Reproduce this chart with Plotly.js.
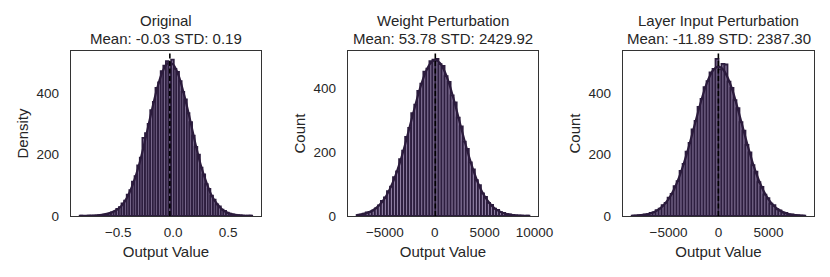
<!DOCTYPE html>
<html>
<head>
<meta charset="utf-8">
<script src="https://cdn.plot.ly/plotly-3.0.1.min.js"></script>
<style>html,body{margin:0;padding:0;background:#fff;}#chart{width:830px;height:277px;}</style>
</head>
<body>
<div id="chart"></div>
<script>
// ---- Data ----
const panelTitles = ["Original", "Weight Perturbation", "Layer Input Perturbation"];
const panelStats = ["Mean: -0.03 STD: 0.19", "Mean: 53.78 STD: 2429.92", "Mean: -11.89 STD: 2387.30"];
const panelMeans = [-0.03, 53.78, -11.89];
const yTitles = ["Density", "Count", "Count"];
const xTitle = "Output Value";

// histogram bins: start and width per panel
const origBinStart = -0.851, origBinWidth = 0.0238;
const weightBinStart = -7834, weightBinWidth = 304;
const layerBinStart = -8682, layerBinWidth = 299.4;

const origCounts = [1, 0, 0, 1, 0, 1, 1, 2, 3, 4, 6, 8, 12, 15, 23, 29, 41, 50, 70, 84,
  112, 130, 165, 190, 255, 270, 300, 345, 372, 418, 436, 472, 490, 505,
  498,
  510, 480, 470, 440, 405, 380, 335, 306, 262, 225, 200, 158, 136, 104, 88, 66, 53, 38, 31, 21,
  17, 11, 8, 5, 4, 2, 2, 1, 0, 1, 1];
const weightCounts = [3, 4, 7, 11, 13, 17, 24, 33, 47, 58, 78, 92, 122, 140, 178, 205, 248, 276, 322, 349,
  392, 415, 452, 462, 485, 490, 492, 476, 470, 438, 420, 378, 356, 308, 281, 233, 210, 168, 146, 112,
  97, 71, 60, 41, 35, 23, 19, 12, 10, 6, 5, 3, 2, 1, 1, 0, 1];
const layerCounts = [1, 1, 2, 3, 5, 6, 10, 12, 19, 24, 35, 43, 60, 72, 97, 114, 147, 170, 210, 238,
  282, 310, 356, 382, 420, 440, 468, 480, 512, 478, 496, 494, 438, 418, 378, 352, 306, 278, 232, 207,
  166, 145, 110, 95, 70, 58, 40, 35, 22, 18, 11, 10, 5, 5, 2, 2, 1, 1];

// KDE curves
const origKdeX = [-0.85, -0.75, -0.65, -0.55, -0.50, -0.45, -0.40, -0.35, -0.30, -0.25, -0.20, -0.15, -0.10, -0.05,
  0.00, 0.05, 0.10, 0.15, 0.20, 0.25, 0.30, 0.35, 0.40, 0.45, 0.50, 0.55, 0.60, 0.72];
const origKdeY = [0.3, 1, 4, 13, 23, 42, 74, 120, 180, 255, 335, 410, 468, 498,
  494, 458, 395, 320, 240, 168, 112, 67, 39, 20, 10, 5, 2, 0.3];
const weightKdeX = [-7834, -7500, -7000, -6500, -6000, -5500, -5000, -4500, -4000, -3500, -3000, -2500, -2000, -1500, -1000, -500,
  0, 500, 1000, 1500, 2000, 2500, 3000, 3500, 4000, 4500, 5000, 5500, 6000, 6500, 7000, 7500, 8000, 8500, 9000, 9494];
const weightKdeY = [3, 4.5, 8, 13, 22, 36, 56, 85, 121, 167, 221, 281, 341, 398, 444, 476,
  488, 480, 452, 409, 354, 294, 234, 179, 131, 91, 62, 40, 24, 14.5, 8, 4.5, 2.3, 1.2, 0.6, 0.3];
const layerKdeX = [-8682, -8000, -7500, -7000, -6500, -6000, -5500, -5000, -4500, -4000, -3500, -3000, -2500, -2000, -1500, -1000, -500,
  0, 500, 1000, 1500, 2000, 2500, 3000, 3500, 4000, 4500, 5000, 5500, 6000, 6500, 7000, 7500, 8000, 8682];
const layerKdeY = [0.7, 1.8, 3.6, 6.7, 12, 21, 35, 55, 83, 121, 168, 222, 283, 344, 401, 447, 477,
  487, 476, 445, 399, 341, 280, 220, 165, 119, 82, 54, 34, 20.5, 11.8, 6.5, 3.4, 1.8, 0.7];

const xRanges = [[-0.93, 0.80], [-8700, 10350], [-9550, 9550]];
const yRanges = [[0, 538], [0, 517], [0, 538]];
const xTickVals = [[-0.5, 0, 0.5], [-5000, 0, 5000, 10000], [-5000, 0, 5000]];
const xTickText = [["\u22120.5", "0.0", "0.5"], ["\u22125000", "0", "5000", "10000"], ["\u22125000", "0", "5000"]];
const yTickVals = [0, 200, 400];

// ---- Build ----
const barFill = "#8e7ea2";
const barEdge = "#2d1e3f";
const kdeColor = "#2b1b3c";
const textColor = "#262626";
const font = "Liberation Sans, Arial, sans-serif";

const hists = [
  [origBinStart, origBinWidth, origCounts, origKdeX, origKdeY],
  [weightBinStart, weightBinWidth, weightCounts, weightKdeX, weightKdeY],
  [layerBinStart, layerBinWidth, layerCounts, layerKdeX, layerKdeY]
];

const domainsX = [[71/830, 261/830], [348/830, 538/830], [623/830, 814/830]];
const domainY = [(277-216)/277, (277-51)/277];

const traces = [];
const layout = {
  width: 830, height: 277,
  margin: {l: 0, r: 0, t: 0, b: 0},
  paper_bgcolor: "#fff", plot_bgcolor: "#fff",
  showlegend: false,
  bargap: 0,
  font: {family: font, color: textColor, size: 13.5},
  annotations: [],
  shapes: []
};

hists.forEach((h, p) => {
  const [start, w, counts, kx, ky] = h;
  const centers = counts.map((_, i) => start + (i + 0.5) * w);
  const sfx = p === 0 ? "" : String(p + 1);
  traces.push({
    type: "bar", x: centers, y: counts, width: w,
    xaxis: "x" + sfx, yaxis: "y" + sfx,
    marker: {color: barFill, line: {color: barEdge, width: 1.8}},
    hoverinfo: "skip"
  });
  traces.push({
    type: "scatter", mode: "lines", x: kx, y: ky,
    xaxis: "x" + sfx, yaxis: "y" + sfx,
    line: {color: kdeColor, width: 2.2, shape: "spline", smoothing: 0.8},
    hoverinfo: "skip"
  });
  layout["xaxis" + sfx] = {
    domain: domainsX[p], range: xRanges[p], anchor: "y" + sfx,
    showgrid: false, zeroline: false, showline: true, mirror: true,
    linecolor: "#333", linewidth: 1.3, ticks: "",
    tickvals: xTickVals[p], ticktext: xTickText[p], ticklabelstandoff: 3,
    tickfont: {size: 13.5, color: textColor, family: font},
    title: {text: xTitle, font: {size: 15, color: textColor, family: font}, standoff: 8}
  };
  layout["yaxis" + sfx] = {
    domain: domainY, range: yRanges[p], anchor: "x" + sfx,
    showgrid: false, zeroline: false, showline: true, mirror: true,
    linecolor: "#333", linewidth: 1.3, ticks: "",
    tickvals: yTickVals, ticklabelstandoff: 8,
    tickfont: {size: 13.5, color: textColor, family: font},
    title: {text: yTitles[p], font: {size: 15, color: textColor, family: font}, standoff: 4}
  };
  const cx = (domainsX[p][0] + domainsX[p][1]) / 2;
  layout.annotations.push({
    xref: "paper", yref: "paper", x: cx, y: 1 - 20.5/277, xanchor: "center", yanchor: "middle",
    text: panelTitles[p], showarrow: false, borderpad: 0, font: {size: 15, color: textColor, family: font}
  });
  layout.annotations.push({
    xref: "paper", yref: "paper", x: cx, y: 1 - 38.5/277, xanchor: "center", yanchor: "middle",
    text: panelStats[p], showarrow: false, borderpad: 0, font: {size: 15, color: textColor, family: font}
  });
  layout.shapes.push({
    type: "line", xref: "x" + sfx, yref: "y" + sfx + " domain",
    x0: panelMeans[p], x1: panelMeans[p], y0: 0, y1: 1,
    line: {color: "#000", width: 1.6, dash: "5px,2.5px"}
  });
});

Plotly.newPlot("chart", traces, layout, {displayModeBar: false, staticPlot: true});
</script>
</body>
</html>
